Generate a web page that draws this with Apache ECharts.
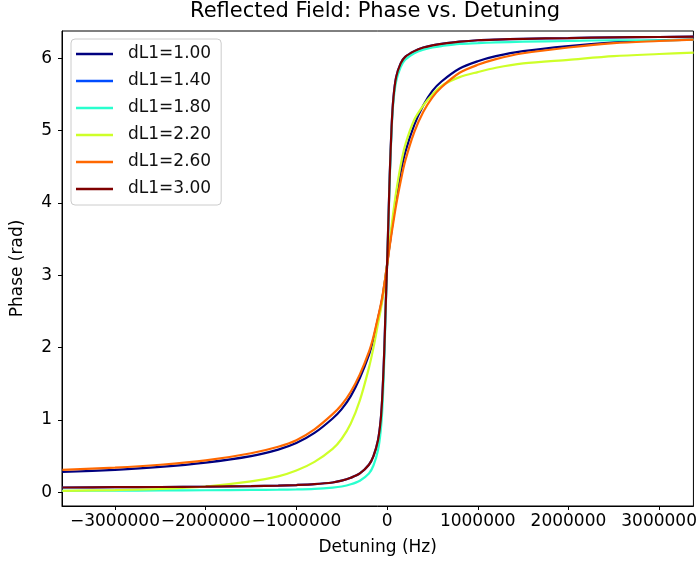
<!DOCTYPE html>
<html>
<head>
<meta charset="utf-8">
<title>Reflected Field: Phase vs. Detuning</title>
<script src="https://cdn.jsdelivr.net/npm/echarts@6/dist/echarts.min.js"></script>
<style>
  html, body { margin: 0; padding: 0; background: #fff; }
  #chart { width: 700px; height: 565px; }
</style>
</head>
<body>
<div id="chart"></div>
<script>
// detuning samples (Hz), denser around resonance
var detuning = [-3580000, -3000000, -2500000, -2000000, -1500000, -1200000, -1000000, -800000,
  -600000, -500000, -400000, -300000, -200000, -150000, -100000, -70000, -50000, -30000,
  -20000, -10000, 0, 10000, 20000, 30000, 50000, 70000, 100000, 150000, 200000, 300000,
  400000, 500000, 600000, 800000, 1000000, 1200000, 1500000, 2000000, 2500000, 3000000, 3380000];

// phase (rad), one array per dL1 value
var phase100 = [0.28, 0.31, 0.35, 0.41, 0.50, 0.59, 0.68, 0.82, 1.02, 1.15, 1.33, 1.58, 1.90, 2.12,
  2.40, 2.57, 2.70, 2.87, 2.95, 3.05, 3.14, 3.24, 3.34, 3.43, 3.62, 3.80, 4.05, 4.42, 4.70, 5.08,
  5.35, 5.55, 5.68, 5.86, 5.96, 6.03, 6.10, 6.17, 6.22, 6.25, 6.26];
var phase140 = [0.066, 0.07, 0.073, 0.078, 0.085, 0.092, 0.10, 0.112, 0.135, 0.16, 0.20, 0.26, 0.38,
  0.50, 0.72, 1.00, 1.38, 1.98, 2.38, 2.77, 3.14, 3.55, 3.98, 4.40, 5.05, 5.45, 5.74, 5.93, 6.02,
  6.10, 6.15, 6.18, 6.20, 6.23, 6.25, 6.26, 6.27, 6.28, 6.29, 6.295, 6.30];
var phase180 = [0.02, 0.022, 0.025, 0.028, 0.032, 0.036, 0.04, 0.048, 0.065, 0.08, 0.11, 0.16, 0.26,
  0.37, 0.58, 0.85, 1.20, 1.85, 2.30, 2.75, 3.14, 3.50, 3.92, 4.35, 5.00, 5.40, 5.68, 5.88, 5.98,
  6.07, 6.12, 6.15, 6.17, 6.20, 6.21, 6.22, 6.23, 6.24, 6.25, 6.25, 6.26];
var phase220 = [0.02, 0.03, 0.045, 0.08, 0.15, 0.22, 0.30, 0.42, 0.60, 0.74, 0.95, 1.27, 1.72, 2.00,
  2.33, 2.52, 2.67, 2.85, 2.95, 3.05, 3.14, 3.25, 3.36, 3.47, 3.68, 3.88, 4.15, 4.52, 4.80, 5.15,
  5.35, 5.50, 5.62, 5.74, 5.81, 5.87, 5.93, 5.98, 6.03, 6.06, 6.08];
var phase260 = [0.31, 0.34, 0.38, 0.44, 0.54, 0.63, 0.72, 0.87, 1.08, 1.21, 1.39, 1.63, 1.94, 2.15,
  2.42, 2.59, 2.72, 2.88, 2.96, 3.05, 3.14, 3.23, 3.32, 3.41, 3.58, 3.74, 3.97, 4.30, 4.58, 4.98,
  5.26, 5.46, 5.60, 5.80, 5.91, 5.99, 6.07, 6.15, 6.21, 6.24, 6.26];
var phase300 = [0.066, 0.07, 0.073, 0.078, 0.085, 0.092, 0.10, 0.112, 0.135, 0.16, 0.20, 0.26, 0.38,
  0.50, 0.72, 1.00, 1.38, 1.98, 2.38, 2.77, 3.14, 3.55, 3.98, 4.40, 5.05, 5.45, 5.74, 5.93, 6.02,
  6.10, 6.15, 6.18, 6.20, 6.23, 6.25, 6.26, 6.27, 6.28, 6.29, 6.295, 6.30];

var labels = ['dL1=1.00', 'dL1=1.40', 'dL1=1.80', 'dL1=2.20', 'dL1=2.60', 'dL1=3.00'];
var colors = ['#00007f', '#004cff', '#29ffce', '#ceff29', '#ff6800', '#7f0000'];
var phases = [phase100, phase140, phase180, phase220, phase260, phase300];

var xTicks = [-3000000, -2000000, -1000000, 0, 1000000, 2000000, 3000000];
var yTicks = [0, 1, 2, 3, 4, 5, 6];

var font = 'DejaVu Sans';

function pairs(ys) {
  return detuning.map(function (x, i) { return [x, ys[i]]; });
}

var chart = echarts.init(document.getElementById('chart'));

var series = labels.map(function (name, k) {
  return {
    name: name,
    type: 'line',
    data: pairs(phases[k]),
    showSymbol: false,
    smooth: 0.3,
    lineStyle: { color: colors[k], width: 2.2 },
    itemStyle: { color: colors[k] },
    emphasis: { disabled: true }
  };
});

var option = {
  animation: false,
  backgroundColor: '#fff',
  color: colors,
  title: {
    text: 'Reflected Field: Phase vs. Detuning',
    left: 190,
    top: 1,
    padding: 0,
    textStyle: { fontFamily: font, fontSize: 21, fontWeight: 'normal', color: '#000' }
  },
  legend: {
    orient: 'vertical',
    left: 71,
    top: 39,
    icon: 'rect',
    itemWidth: 37,
    itemHeight: 2.5,
    itemGap: 9,
    padding: [6, 10, 7, 5],
    borderColor: '#cccccc',
    borderWidth: 1,
    borderRadius: 4,
    backgroundColor: 'rgba(255,255,255,0.8)',
    textStyle: { fontFamily: font, fontSize: 17, color: '#111', lineHeight: 18, padding: [0, 0, 0, 10] },
    data: labels
  },
  grid: {
    left: 62, right: 4, top: 31, bottom: 59,
    show: true, borderColor: '#000', borderWidth: 1, backgroundColor: '#fff',
    containLabel: false
  },
  xAxis: {
    type: 'value',
    min: -3584000,
    max: 3378000,
    name: 'Detuning (Hz)',
    nameLocation: 'middle',
    nameGap: 33,
    nameTextStyle: { fontFamily: font, fontSize: 17, color: '#000' },
    axisLine: { show: true, onZero: false, lineStyle: { color: '#000', width: 1 } },
    axisTick: { show: true, length: 4, inside: false, customValues: xTicks, lineStyle: { color: '#000' } },
    axisLabel: {
      customValues: xTicks,
      fontFamily: font, fontSize: 17, color: '#000', margin: 7,
      formatter: function (v) { return v < 0 ? '\u2212' + Math.abs(v) : String(v); }
    },
    splitLine: { show: false }
  },
  yAxis: {
    type: 'value',
    min: -0.19,
    max: 6.378,
    name: 'Phase (rad)',
    nameLocation: 'middle',
    nameGap: 36,
    nameTextStyle: { fontFamily: font, fontSize: 17, color: '#000' },
    axisLine: { show: true, onZero: false, lineStyle: { color: '#000', width: 1 } },
    axisTick: { show: true, length: 4, inside: false, customValues: yTicks, lineStyle: { color: '#000' } },
    axisLabel: {
      customValues: yTicks,
      fontFamily: font, fontSize: 17, color: '#000', margin: 10
    },
    splitLine: { show: false }
  },
  series: series
};

chart.setOption(option);
</script>
</body>
</html>
